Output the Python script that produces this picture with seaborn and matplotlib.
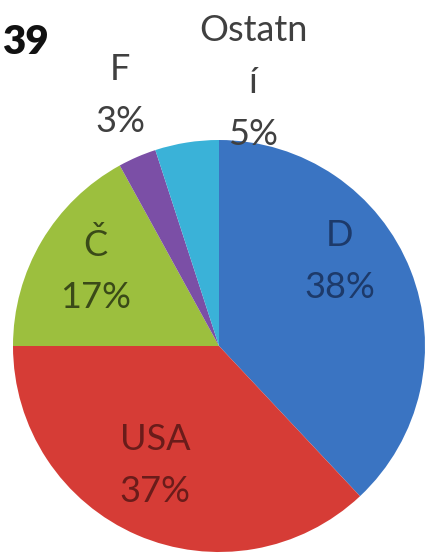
import matplotlib
matplotlib.use("Agg")
import matplotlib.pyplot as plt
import seaborn as sns

categories = ["D", "USA", "Č", "F", "Ostatní"]
values = [38, 37, 17, 3, 5]
label_texts = ["D\n38%", "USA\n37%", "Č\n17%", "F\n3%", "Ostatn\ní\n5%"]
title_text = "39"

sns.set_theme(style="white")
plt.rcParams["font.family"] = ["Lato", "DejaVu Sans"]

colors = ["#3a74c2", "#d63c36", "#9cbf3e", "#7b4fa6", "#3ab2d8"]
text_colors = ["#1d3a6a", "#6a1c1a", "#3a4a18", "#404040", "#404040"]

fig = plt.figure(figsize=(4.28, 5.56), dpi=100)
cx, cy, r = 219, 346, 206
W, H = 428, 556
ax = fig.add_axes([(cx - r) / W, (H - cy - r) / H, 2 * r / W, 2 * r / H])
ax.pie(values, colors=colors, startangle=90, counterclock=False,
       wedgeprops=dict(linewidth=0), radius=1)
ax.set_xlim(-1, 1)
ax.set_ylim(-1, 1)
ax.set_aspect("equal")
ax.axis("off")

# label positions (style)
pos = [(0.587, 0.41), (-0.311, -0.58), (-0.60, 0.365), (-0.48, 1.215), (0.165, 1.28)]
for (x, y), t, c in zip(pos, label_texts, text_colors):
    ax.text(x, y, t, ha="center", va="center", fontsize=26, color=c,
            linespacing=1.7, clip_on=False)

fig.text(0.004, 1 - 42 / H, title_text, ha="left", va="center", fontsize=29,
         fontweight="heavy", color="#111111")

fig.savefig("out.png", dpi=100)
